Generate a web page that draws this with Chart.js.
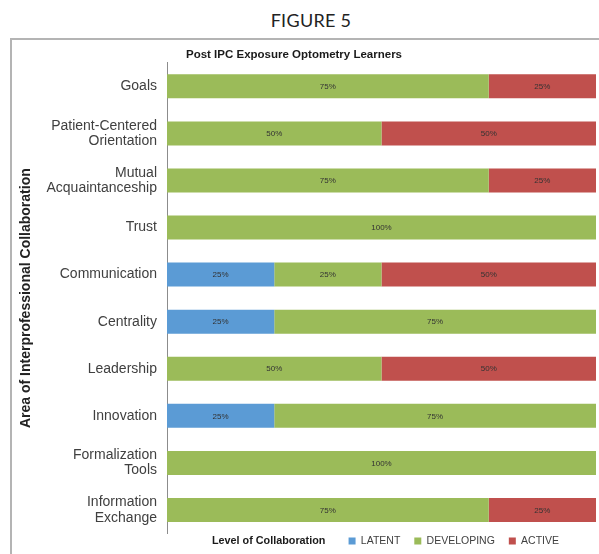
<!DOCTYPE html>
<html>
<head>
<meta charset="utf-8">
<script src="https://cdn.jsdelivr.net/npm/chart.js@4/dist/chart.umd.min.js"></script>
<style>
html,body{margin:0;padding:0;background:#fff;overflow:hidden;width:599px;height:554px;}
#fig{position:absolute;left:0;width:622px;top:9px;text-align:center;font-family:Lato,"Open Sans",sans-serif;font-size:18px;color:#222;letter-spacing:0.3px;}
#frame{position:absolute;left:10px;top:38px;width:620px;height:560px;border:2px solid #b4b4b4;box-sizing:border-box;}
#c{position:absolute;left:-8px;top:0;}
</style>
</head>
<body>
<div id="fig">FIGURE 5</div>
<div id="frame"></div>
<canvas id="c" width="604" height="568"></canvas>
<script>
const categories = [
  'Goals',
  ['Patient-Centered', 'Orientation'],
  ['Mutual', 'Acquaintanceship'],
  'Trust',
  'Communication',
  'Centrality',
  'Leadership',
  'Innovation',
  ['Formalization', 'Tools'],
  ['Information', 'Exchange']
];
const seriesNames = ['LATENT', 'DEVELOPING', 'ACTIVE'];
const latent     = [0, 0, 0, 0, 25, 25, 0, 25, 0, 0];
const developing = [75, 50, 75, 100, 25, 75, 50, 75, 100, 75];
const active     = [25, 50, 25, 0, 50, 0, 50, 0, 0, 25];
const chartTitle = 'Post IPC Exposure Optometry Learners';
const axisTitle = 'Area of Interprofessional Collaboration';
const legendTitle = 'Level of Collaboration';

const FAMILY = '"Liberation Sans", Arial, Helvetica, sans-serif';
Chart.defaults.font.family = FAMILY;

const dataLabels = {
  id: 'dataLabels',
  afterDatasetsDraw(chart) {
    const ctx = chart.ctx;
    ctx.save();
    ctx.font = '8px ' + FAMILY;
    ctx.fillStyle = '#333';
    ctx.textAlign = 'center';
    ctx.textBaseline = 'middle';
    chart.data.datasets.forEach((ds, i) => {
      const meta = chart.getDatasetMeta(i);
      meta.data.forEach((el, j) => {
        const v = ds.data[j];
        if (!v) return;
        const p = el.getCenterPoint();
        ctx.fillText(v + '%', p.x, p.y + 0.5);
      });
    });
    ctx.restore();
  }
};

const legendFix = {
  id: 'legendFix',
  beforeDraw(chart) {
    const lg = chart.legend;
    if (!lg || !lg.legendHitBoxes || !lg.legendHitBoxes.length) return;
    const hb = lg.legendHitBoxes[0];
    const shift = hb.top + hb.height / 2 - 541;
    if (Math.abs(shift) > 0.3) {
      lg.top -= shift; lg.bottom -= shift;
      lg.legendHitBoxes.forEach(h => { h.top -= shift; });
    }
    if (!lg._xShifted) {
      lg._xShifted = true;
      lg.left += 4; lg.right += 4;
      lg.legendHitBoxes.forEach(h => { h.left += 4; });
    }
  },
  afterDraw(chart) {
    const lg = chart.legend;
    if (!lg || !lg.legendHitBoxes || !lg.legendHitBoxes.length) return;
    const hb = lg.legendHitBoxes[0];
    const ctx = chart.ctx;
    ctx.save();
    ctx.font = 'bold 10.8px ' + FAMILY;
    ctx.fillStyle = '#1a1a1a';
    ctx.textAlign = 'left';
    ctx.textBaseline = 'middle';
    ctx.fillText(legendTitle, hb.left, hb.top + hb.height / 2);
    ctx.restore();
  }
};

new Chart(document.getElementById('c'), {
  type: 'bar',
  data: {
    labels: categories,
    datasets: [
      { label: seriesNames[0], data: latent, backgroundColor: '#5b9bd5', borderWidth: 0 },
      { label: seriesNames[1], data: developing, backgroundColor: '#9bbb59', borderWidth: 0 },
      { label: seriesNames[2], data: active, backgroundColor: '#c0504d', borderWidth: 0 }
    ]
  },
  options: {
    indexAxis: 'y',
    responsive: false,
    animation: false,
    events: [],
    datasets: { bar: { barPercentage: 0.51, categoryPercentage: 1 } },
    layout: { padding: 0 },
    scales: {
      x: { stacked: true, min: 0, max: 100, display: false },
      y: {
        stacked: true,
        grid: { display: false, drawTicks: false },
        border: { display: true, color: '#8c8c8c', width: 1 },
        ticks: { padding: 10, color: '#404040', font: { size: 14, lineHeight: 1.1 } },
        title: {
          display: true, text: axisTitle, color: '#222',
          font: { size: 14, weight: 'bold' }, padding: { top: 25.5, bottom: 0 }
        },
        afterFit(s) { s.width = 175; }
      }
    },
    plugins: {
      title: {
        display: true, text: chartTitle, color: '#1a1a1a',
        font: { size: 11.5, weight: 'bold' }, padding: { top: 48, bottom: 1 }
      },
      legend: {
        position: 'bottom',
        fullSize: false,
        labels: {
          boxWidth: 7, boxHeight: 7, padding: 14, color: '#404040',
          font: { size: 10.5 },
          generateLabels(chart) {
            const base = Chart.defaults.plugins.legend.labels.generateLabels(chart);
            base.forEach(b => { b.lineWidth = 0; b.strokeStyle = 'rgba(0,0,0,0)'; });
            return [{
              text: legendTitle + '   ', fillStyle: 'rgba(0,0,0,0)', strokeStyle: 'rgba(0,0,0,0)',
              lineWidth: 0, fontColor: 'rgba(0,0,0,0)', hidden: false, datasetIndex: null
            }].concat(base);
          }
        }
      },
      tooltip: { enabled: false }
    }
  },
  plugins: [dataLabels, legendFix]
});
</script>
</body>
</html>
